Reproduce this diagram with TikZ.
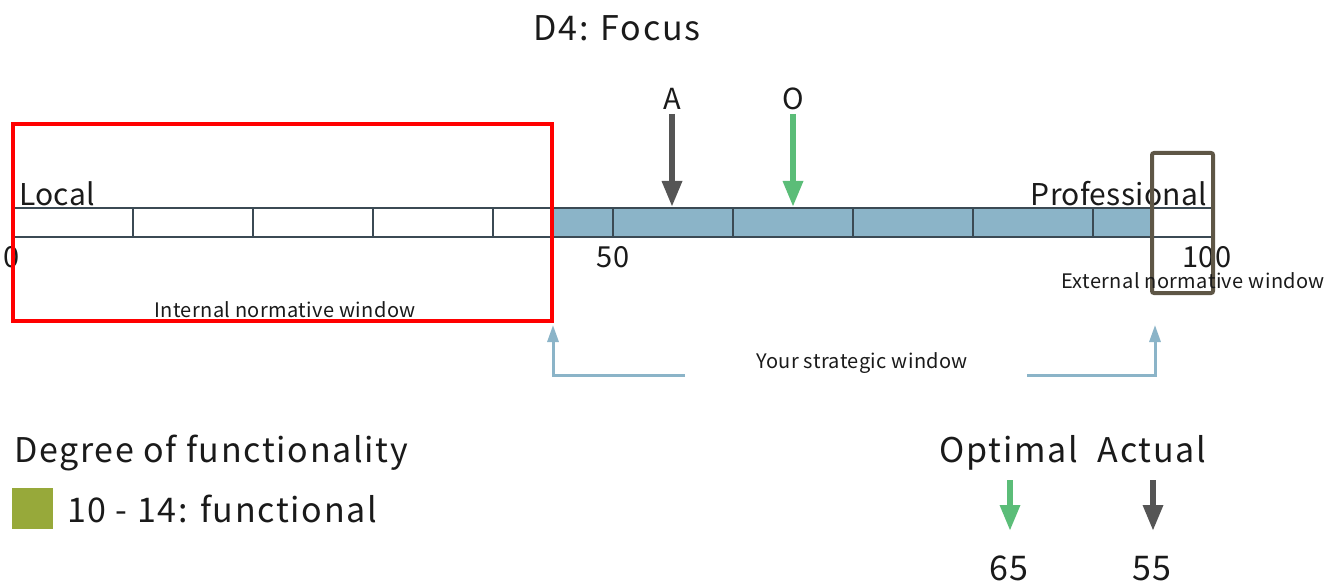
\documentclass[tikz,border=0pt]{standalone}
\usepackage{fontspec}
\setmainfont{Noto Sans CJK JP}
\usetikzlibrary{arrows.meta}
\definecolor{barblue}{HTML}{8BB4C8}
\definecolor{barline}{HTML}{3B4A54}
\definecolor{agray}{HTML}{555555}
\definecolor{ogreen}{HTML}{5BBD78}
\definecolor{brownbox}{HTML}{5E5646}
\definecolor{legendgreen}{HTML}{97A93A}
\definecolor{txt}{HTML}{1A1A1A}
\begin{document}
\begin{tikzpicture}[x=1pt,y=-1pt,
  lbl/.style={inner sep=0pt, text=txt, anchor=base},
  big/.style={lbl, font=\fontsize{34}{38}\selectfont\addfontfeatures{LetterSpace=5}},
  endlbl/.style={lbl, font=\fontsize{30}{34}\selectfont\addfontfeatures{LetterSpace=1}},
  mid/.style={lbl, font=\fontsize{29}{32}\selectfont\addfontfeatures{LetterSpace=3}},
  small/.style={lbl, font=\fontsize{20}{24}\selectfont\addfontfeatures{LetterSpace=2}},
  fatarrow/.style={line width=6pt, -{Triangle[width=19pt,length=26pt]}},
  winarrow/.style={barblue, line width=3pt, -{Triangle[width=11pt,length=17pt]}},
  cellline/.style={barline, line width=2pt}]
\useasboundingbox (0,0) rectangle (1343,585);

% title
\node[big] (title) at (617,41) {D4: Focus};

% bar
\fill[barblue] (553,208) rectangle (1153,237);
\draw[cellline] (13,208) -- (1212,208);
\draw[cellline] (13,237) -- (1212,237);
\foreach \k in {1,...,9} {\draw[cellline] ({13+120*\k},208) -- ({13+120*\k},237);}
\coordinate (bartopA) at (672,207);
\coordinate (bartopO) at (793,207);

% scale labels
\node[mid] (n0) at (12,268) {0};
\node[mid] (n50) at (613,268) {50};
\node[mid] (n100) at (1207,268) {100};
\node[endlbl, anchor=base west] (local) at (19,206) {Local};
\node[endlbl, anchor=base east] (prof) at (1207,206) {Professional};

% windows
\node[draw=red, line width=4pt, minimum width=539pt, minimum height=197pt, inner sep=0pt] (internal) at (282.5,222.5) {};
\node[small] (intlbl) at (285,317) {Internal normative window};
\node[draw=brownbox, line width=4pt, rounded corners=2pt, minimum width=61pt, minimum height=140pt, inner sep=0pt] (external) at (1182.5,223) {};
\node[small] (extlbl) at (1193,288) {External normative window};

% A and O arrows
\node[mid] (A) at (672,110) {A};
\node[mid] (O) at (793,110) {O};
\coordinate (As) at (672,114);
\coordinate (Os) at (793,114);
\draw[fatarrow, agray] (As) -- (bartopA);
\draw[fatarrow, ogreen] (Os) -- (bartopO);

% strategic window
\node[small] (strat) at (862,368) {Your strategic window};
\coordinate (sl) at (685,375);
\coordinate (sr) at (1027,375);
\coordinate (slt) at (553,325);
\coordinate (srt) at (1155,325);
\draw[winarrow] (sl) -- (slt|-sl) -- (slt);
\draw[winarrow] (sr) -- (srt|-sr) -- (srt);

% legend
\node[big, anchor=base west] (deg) at (14,462) {Degree of functionality};
\node[fill=legendgreen, minimum size=41pt, inner sep=0pt] (sq) at (32.5,508.5) {};
\node[big, anchor=base west] (func) at (67,522) {10 - 14: functional};

\node[big] (opt) at (1009,462) {Optimal};
\node[big] (act) at (1152,462) {Actual};
\coordinate (optstart) at (1010,480);
\coordinate (actstart) at (1153,480);
\coordinate (optend) at (1010,531);
\coordinate (actend) at (1153,531);
\draw[fatarrow, ogreen] (optstart) -- (optend);
\draw[fatarrow, agray] (actstart) -- (actend);
\node[big] (v65) at (1009,580) {65};
\node[big] (v55) at (1152,580) {55};
\end{tikzpicture}
\end{document}
